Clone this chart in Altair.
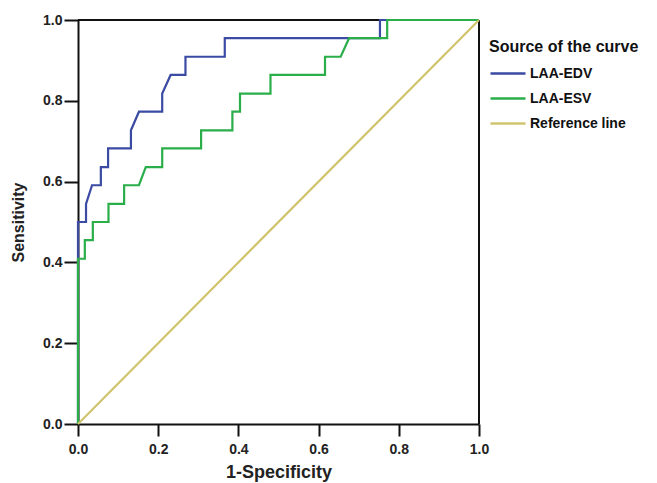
import altair as alt
import pandas as pd

# ROC curve vertices
edv_x = [0.0, 0.0, 0.02, 0.02, 0.035, 0.057, 0.057, 0.075, 0.075, 0.132, 0.132, 0.152, 0.21, 0.21, 0.231, 0.268, 0.268, 0.366, 0.366, 0.753, 0.753, 1.0]
edv_y = [0.0, 0.5, 0.5, 0.545, 0.591, 0.591, 0.636, 0.636, 0.682, 0.682, 0.727, 0.773, 0.773, 0.818, 0.864, 0.864, 0.909, 0.909, 0.955, 0.955, 1.0, 1.0]

esv_x = [0.0, 0.0, 0.017, 0.017, 0.037, 0.037, 0.076, 0.076, 0.115, 0.115, 0.152, 0.169, 0.21, 0.21, 0.307, 0.307, 0.385, 0.385, 0.404, 0.404, 0.48, 0.48, 0.616, 0.616, 0.655, 0.676, 0.771, 0.771, 1.0]
esv_y = [0.0, 0.409, 0.409, 0.455, 0.455, 0.5, 0.5, 0.545, 0.545, 0.591, 0.591, 0.636, 0.636, 0.682, 0.682, 0.727, 0.727, 0.773, 0.773, 0.818, 0.818, 0.864, 0.864, 0.909, 0.909, 0.955, 0.955, 1.0, 1.0]

ref_x = [0.0, 1.0]
ref_y = [0.0, 1.0]

series_names = ["LAA-EDV", "LAA-ESV", "Reference line"]
series_colors = ["#3b4aa3", "#2aae4a", "#cfc46c"]
ticks = [0.0, 0.2, 0.4, 0.6, 0.8, 1.0]

rows = []
for name, xs, ys in [(series_names[0], edv_x, edv_y), (series_names[1], esv_x, esv_y), (series_names[2], ref_x, ref_y)]:
    for i, (a, b) in enumerate(zip(xs, ys)):
        rows.append({"series": name, "x": a, "y": b, "order": i})
df = pd.DataFrame(rows)

FONT = "Liberation Sans"

xscale = alt.Scale(domain=[0, 1], nice=False)
yscale = alt.Scale(domain=[0, 1], nice=False)

# frame edges at x = 1.0 and y = 1.0, drawn in data coordinates
frame_right = alt.Chart(df).mark_rule(color="#111", strokeWidth=2).encode(
    x=alt.datum(1.0, scale=xscale),
    y=alt.datum(0.0, scale=yscale),
    y2=alt.datum(1.0),
)
frame_top = alt.Chart(df).mark_rule(color="#111", strokeWidth=2).encode(
    y=alt.datum(1.0, scale=yscale),
    x=alt.datum(0.0, scale=xscale),
    x2=alt.datum(1.0),
)

lines = alt.Chart(df).mark_line(strokeWidth=2.2, interpolate="linear").encode(
    x=alt.X("x:Q", scale=xscale,
            axis=alt.Axis(title="1-Specificity", values=ticks, format=".1f", grid=False,
                          tickSize=12, tickWidth=2, tickColor="#111", domainColor="#111", domainWidth=2,
                          labelFontSize=14, labelFontWeight="bold", labelColor="#222", labelFont=FONT,
                          labelPadding=6, titleFontSize=18, titleFontWeight="bold", titleFont=FONT,
                          titleColor="#222", titlePadding=7, labelFlush=False)),
    y=alt.Y("y:Q", scale=yscale,
            axis=alt.Axis(title="Sensitivity", values=ticks, format=".1f", grid=False,
                          tickSize=14, tickWidth=2, tickColor="#111", domainColor="#111", domainWidth=2,
                          labelFontSize=14, labelFontWeight="bold", labelColor="#222", labelFont=FONT,
                          labelPadding=2, titleFontSize=16, titleFontWeight="bold", titleFont=FONT,
                          titleColor="#222", titlePadding=16, labelFlush=False)),
    color=alt.Color("series:N", scale=alt.Scale(domain=series_names, range=series_colors),
                    legend=alt.Legend(title="Source of the curve", orient="none", legendX=411, legendY=19,
                                      titleFontSize=16, titleFontWeight="bold", titleFont=FONT, titleColor="#111",
                                      titlePadding=7,
                                      labelFontSize=14, labelFontWeight="bold", labelFont=FONT, labelColor="#111",
                                      symbolType="M-1,0H2.5", symbolSize=400, symbolStrokeWidth=2.5,
                                      labelOffset=18, rowPadding=6, padding=0)),
    order="order:Q",
    detail="series:N",
)

chart = alt.layer(frame_right, frame_top, lines).properties(
    width=401, height=404,
    padding={"left": 70, "top": 12, "right": 170, "bottom": 62},
    autosize=alt.AutoSizeParams(type="none"),
).configure_view(
    stroke="#111", strokeWidth=2
).configure(background="white")

chart.save("out.html", embed_options={"renderer": "svg", "actions": False})
